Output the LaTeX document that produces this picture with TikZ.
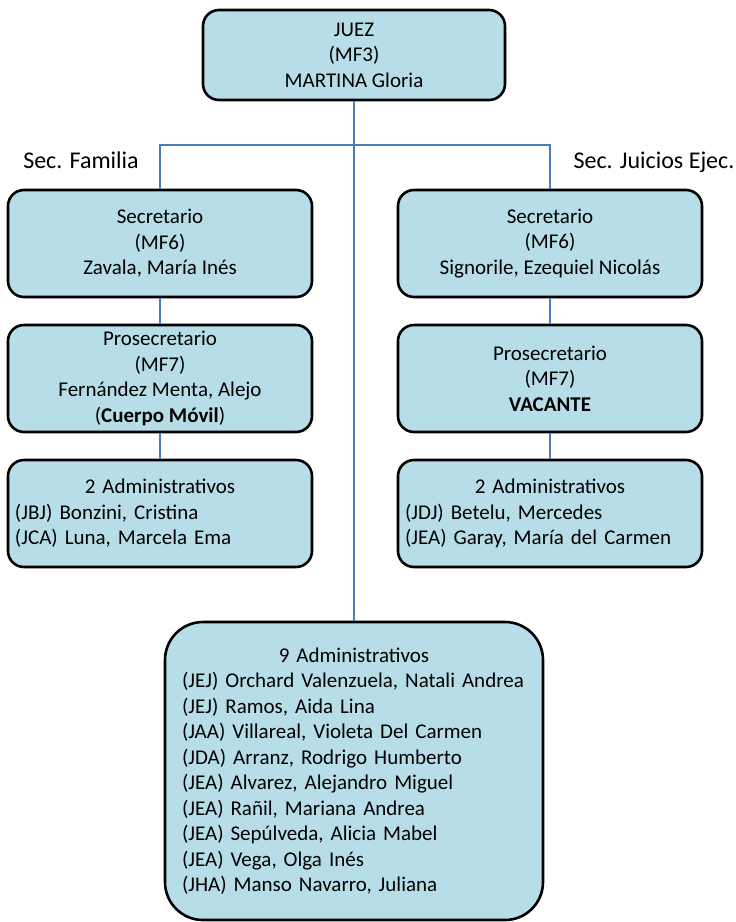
\documentclass[tikz,border=0pt]{standalone}
\usepackage{fontspec}
\setmainfont{Carlito}
\usepackage{tikz}
\definecolor{boxfill}{RGB}{183,222,232}
\definecolor{linkblue}{RGB}{74,126,187}

\begin{document}
\begin{tikzpicture}
  [x=0.5pt,y=-0.5pt,
   box/.style={draw,line width=1.3pt,rounded corners=8pt,fill=boxfill,inner sep=0pt,
     minimum width=152pt,minimum height=53.5pt,align=center,
     font=\fontsize{10.5}{12.75}\selectfont},
   list/.style={box,align=left,text width=145pt},
   tag/.style={font=\fontsize{12}{14}\selectfont,inner sep=0pt},
   link/.style={draw=linkblue,line width=1pt}]
  \useasboundingbox (0,0) rectangle (735,922);
  \node[box,minimum width=151pt,minimum height=45pt] (juez) at (354,55) {JUEZ\\(MF3)\\MARTINA Gloria};
  \node[tag] (lblFam) at (81,160) {Sec. Familia};
  \node[tag] (lblJui) at (654,162) {Sec. Juicios Ejec.};
  \node[box] (secFam) at (160,243.5) {Secretario\\(MF6)\\Zavala, María Inés};
  \node[box] (secJui) at (550,243.5) {Secretario\\(MF6)\\Signorile, Ezequiel Nicolás};
  \node[box] (proFam) at (160,378.5) {Prosecretario\\(MF7)\\Fernández Menta, Alejo\\(\textbf{Cuerpo Móvil})};
  \node[box] (proJui) at (550,378.5) {Prosecretario\\(MF7)\\\textbf{VACANTE}};
  \node[list] (admFam) at (160,513.5) {\hspace*{\fill}2 Administrativos\hspace*{\fill}\null\\(JBJ) Bonzini, Cristina\\(JCA) Luna, Marcela Ema};
  \node[list] (admJui) at (550,513.5) {\hspace*{\fill}2 Administrativos\hspace*{\fill}\null\\(JDJ) Betelu, Mercedes\\(JEA) Garay, María del Carmen};
  \node[list,rounded corners=19pt,minimum width=189pt,minimum height=149pt,text width=172pt] (admJuz) at (354,771)
    {\hspace*{\fill}9 Administrativos\hspace*{\fill}\null\\
     (JEJ) Orchard Valenzuela, Natali Andrea\\
     (JEJ) Ramos, Aida Lina\\
     (JAA) Villareal, Violeta Del Carmen\\
     (JDA) Arranz, Rodrigo Humberto\\
     (JEA) Alvarez, Alejandro Miguel\\
     (JEA) Rañil, Mariana Andrea\\
     (JEA) Sepúlveda, Alicia Mabel\\
     (JEA) Vega, Olga Inés\\
     (JHA) Manso Navarro, Juliana};
  \coordinate (bus) at (355,145);
  \draw[link] (juez) -- (admJuz);
  \draw[link] (secFam) |- (bus) -| (secJui);
  \foreach \from/\to in {secFam/proFam,proFam/admFam,secJui/proJui,proJui/admJui}
    \draw[link] (\from) -- (\to);
\end{tikzpicture}
\end{document}
